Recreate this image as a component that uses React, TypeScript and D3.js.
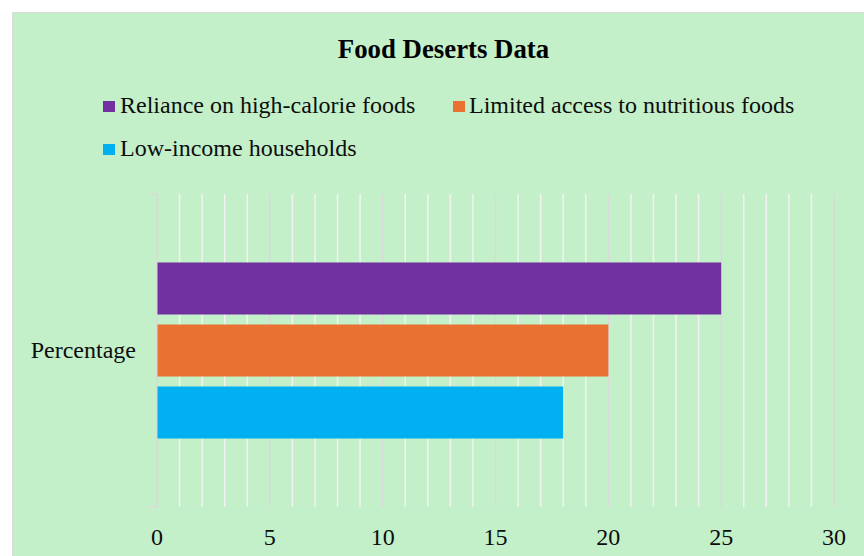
import React from "react";
import * as d3 from "d3";

const categories = ["Percentage"];
const seriesNames = [
  "Reliance on high-calorie foods",
  "Limited access to nutritious foods",
  "Low-income households",
];
const seriesValues = [25, 20, 18];
const seriesColors = ["#7030A0", "#E97132", "#00B0F0"];
const xTicks = [0, 5, 10, 15, 20, 25, 30];
const minorTicks = d3.range(0, 31, 1);

const W = 864;
const H = 556;
const FONT = "'Liberation Serif', 'Times New Roman', serif";

export default function App() {
  const x = d3.scaleLinear().domain([0, 30]).range([157, 834]);
  const y0 = d3
    .scaleBand<string>()
    .domain(categories)
    .range([194, 507])
    .paddingInner(0)
    .paddingOuter(0.389);
  const y1 = d3
    .scaleBand<string>()
    .domain(seriesNames)
    .range([0, y0.bandwidth()])
    .paddingInner(0.161)
    .paddingOuter(0);

  const legendItems = [
    { name: seriesNames[0], color: seriesColors[0], mx: 103, tx: 120, ty: 113 },
    { name: seriesNames[1], color: seriesColors[1], mx: 453, tx: 469, ty: 113 },
    { name: seriesNames[2], color: seriesColors[2], mx: 103, tx: 120, ty: 156 },
  ];

  return (
    <svg
      width={W}
      height={H}
      style={{ position: "absolute", left: 0, top: 0, display: "block" }}
      fontFamily={FONT}
    >
      <rect x={0} y={0} width={W} height={H} fill="#ffffff" />
      <rect
        x={12.5}
        y={12.5}
        width={W + 20}
        height={H + 20}
        fill="#C4F0C9"
        stroke="#D9D9D9"
        strokeWidth={1}
      />
      <text
        x={443.5}
        y={58}
        textAnchor="middle"
        fontWeight="bold"
        fontSize={26.8}
        fill="#000"
      >
        Food Deserts Data
      </text>
      {legendItems.map((d) => (
        <g key={d.name}>
          <rect x={d.mx} y={d.ty - 12} width={12} height={11} fill={d.color} />
          <text x={d.tx} y={d.ty} fontSize={24} fill="#0d0d0d">
            {d.name}
          </text>
        </g>
      ))}
      {minorTicks
        .filter((t) => t % 5 !== 0)
        .map((t) => (
          <line
            key={"m" + t}
            x1={x(t)}
            x2={x(t)}
            y1={194}
            y2={507}
            stroke="#F2F2F2"
            strokeWidth={1.5}
          />
        ))}
      {xTicks
        .filter((t) => t !== 0)
        .map((t) => (
          <line
            key={"M" + t}
            x1={x(t)}
            x2={x(t)}
            y1={194}
            y2={507}
            stroke="#D9D9D9"
            strokeWidth={1.5}
          />
        ))}
      <line x1={x(0)} x2={x(0)} y1={194} y2={507} stroke="#D9D9D9" strokeWidth={1.5} />
      <line x1={150} x2={x(0)} y1={194} y2={194} stroke="#D9D9D9" strokeWidth={1.5} />
      <line x1={150} x2={x(0)} y1={507} y2={507} stroke="#D9D9D9" strokeWidth={1.5} />
      {categories.map((c) =>
        seriesNames.map((s, i) => (
          <rect
            key={c + s}
            x={x(0) + 0.5}
            y={(y0(c) as number) + (y1(s) as number)}
            width={x(seriesValues[i]) - x(0) - 0.5}
            height={y1.bandwidth()}
            fill={seriesColors[i]}
          />
        ))
      )}
      {categories.map((c) => (
        <text
          key={"cl" + c}
          x={136}
          y={358}
          textAnchor="end"
          fontSize={24}
          fill="#0d0d0d"
        >
          {c}
        </text>
      ))}
      {xTicks.map((t) => (
        <text
          key={"t" + t}
          x={x(t)}
          y={545}
          textAnchor="middle"
          fontSize={24}
          fill="#0d0d0d"
        >
          {t}
        </text>
      ))}
    </svg>
  );
}
